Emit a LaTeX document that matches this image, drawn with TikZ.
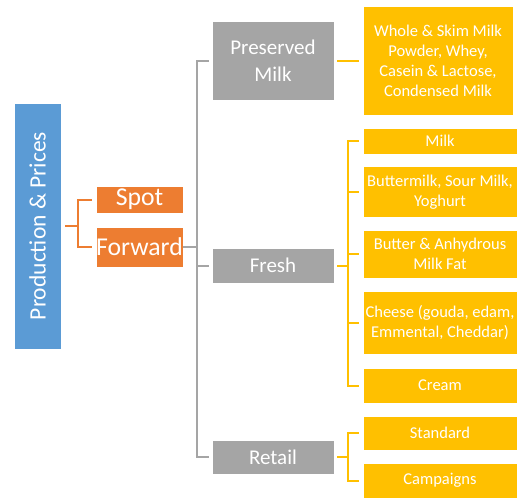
\documentclass[tikz,border=0pt]{standalone}
\usepackage{fontspec}
\setmainfont{Carlito}
\definecolor{cblue}{HTML}{5B9BD5}
\definecolor{corange}{HTML}{ED7D31}
\definecolor{cgray}{HTML}{A5A5A5}
\definecolor{cyellow}{HTML}{FFC000}
\tikzset{
  box/.style={draw=white, line width=0.8pt, inner sep=0pt, text=white, align=center},
  bluebox/.style={box, fill=cblue},
  orangebox/.style={box, fill=corange, font=\fontsize{25.7}{30}\selectfont},
  graybox/.style={box, fill=cgray, minimum width=122pt, font=\fontsize{21}{27}\selectfont},
  yellowbox/.style={box, fill=cyellow, minimum width=154pt, font=\fontsize{16.5}{20}\selectfont},
  oline/.style={draw=corange, line width=2pt},
  gline/.style={draw=cgray, line width=2pt},
  yline/.style={draw=cyellow, line width=2pt},
}
\begin{document}
\begin{tikzpicture}[x=1pt,y=-1pt]
\useasboundingbox (0,0) rectangle (517,498);
\fill[white] (0,0) rectangle (517,498);
% level 0
\node[bluebox, minimum width=47pt, minimum height=246pt] (blue) at (37.5,226) {};
\node[rotate=90, text=white, font=\fontsize{23.5}{28}\selectfont] (bluetext) at (blue.center) {Production \& Prices};
% level 1
\node[orangebox, minimum width=87pt, minimum height=27pt] (spot) at (139.5,199.5) {Spot};
\node[orangebox, minimum width=87pt, minimum height=40pt] (forward) at (139.5,247) {Forward};
% level 2
\node[graybox, minimum height=79pt] (preserved) at (273,60.5) {Preserved\\Milk};
\node[graybox, minimum height=35pt] (fresh) at (273,265.5) {Fresh};
\node[graybox, minimum height=34pt] (retail) at (273,457) {Retail};
% level 3
\node[yellowbox, minimum width=150pt, minimum height=109pt] (whole) at (438,60.5) {Whole \& Skim Milk\\Powder, Whey,\\Casein \& Lactose,\\Condensed Milk};
\node[yellowbox, minimum height=26pt] (milk) at (440,141) {Milk};
\node[yellowbox, minimum height=51pt] (butter) at (440,192) {Buttermilk, Sour Milk,\\Yoghurt};
\node[yellowbox, minimum height=48pt] (anhyd) at (440,254) {Butter \& Anhydrous\\Milk Fat};
\node[yellowbox, minimum height=63pt] (cheese) at (440,322.5) {Cheese (gouda, edam,\\Emmental, Cheddar)};
\node[yellowbox, minimum height=35pt] (cream) at (440,385.5) {Cream};
\node[yellowbox, minimum height=34pt] (standard) at (440,433) {Standard};
\node[yellowbox, minimum height=35pt] (campaigns) at (440,480.5) {Campaigns};
% connectors
\coordinate (ob) at (78,226);
\draw[oline, shorten <=4pt] (blue.east) -- (ob);
\draw[oline, shorten >=4pt] (ob) |- (spot.west);
\draw[oline, shorten >=4pt] (ob) |- (forward.west);
\coordinate (gb) at (197,247);
\draw[gline] (forward.east) -- (gb);
\draw[gline, shorten >=3pt] (gb) |- (preserved.west);
\draw[gline, shorten >=3pt] (gb) |- (fresh.west);
\draw[gline, shorten >=3pt] (gb) |- (retail.west);
\draw[yline, shorten <=3pt, shorten >=4pt] (preserved.east) -- (whole.west);
\coordinate (fb) at (348,265.5);
\draw[yline, shorten <=3pt] (fresh.east) -- (fb);
\foreach \n in {milk,butter,anhyd,cheese,cream}
  \draw[yline, shorten >=4pt] (fb) |- (\n.west);
\coordinate (rb) at (348,457);
\draw[yline, shorten <=3pt] (retail.east) -- (rb);
\foreach \n in {standard,campaigns}
  \draw[yline, shorten >=4pt] (rb) |- (\n.west);
\end{tikzpicture}
\end{document}
